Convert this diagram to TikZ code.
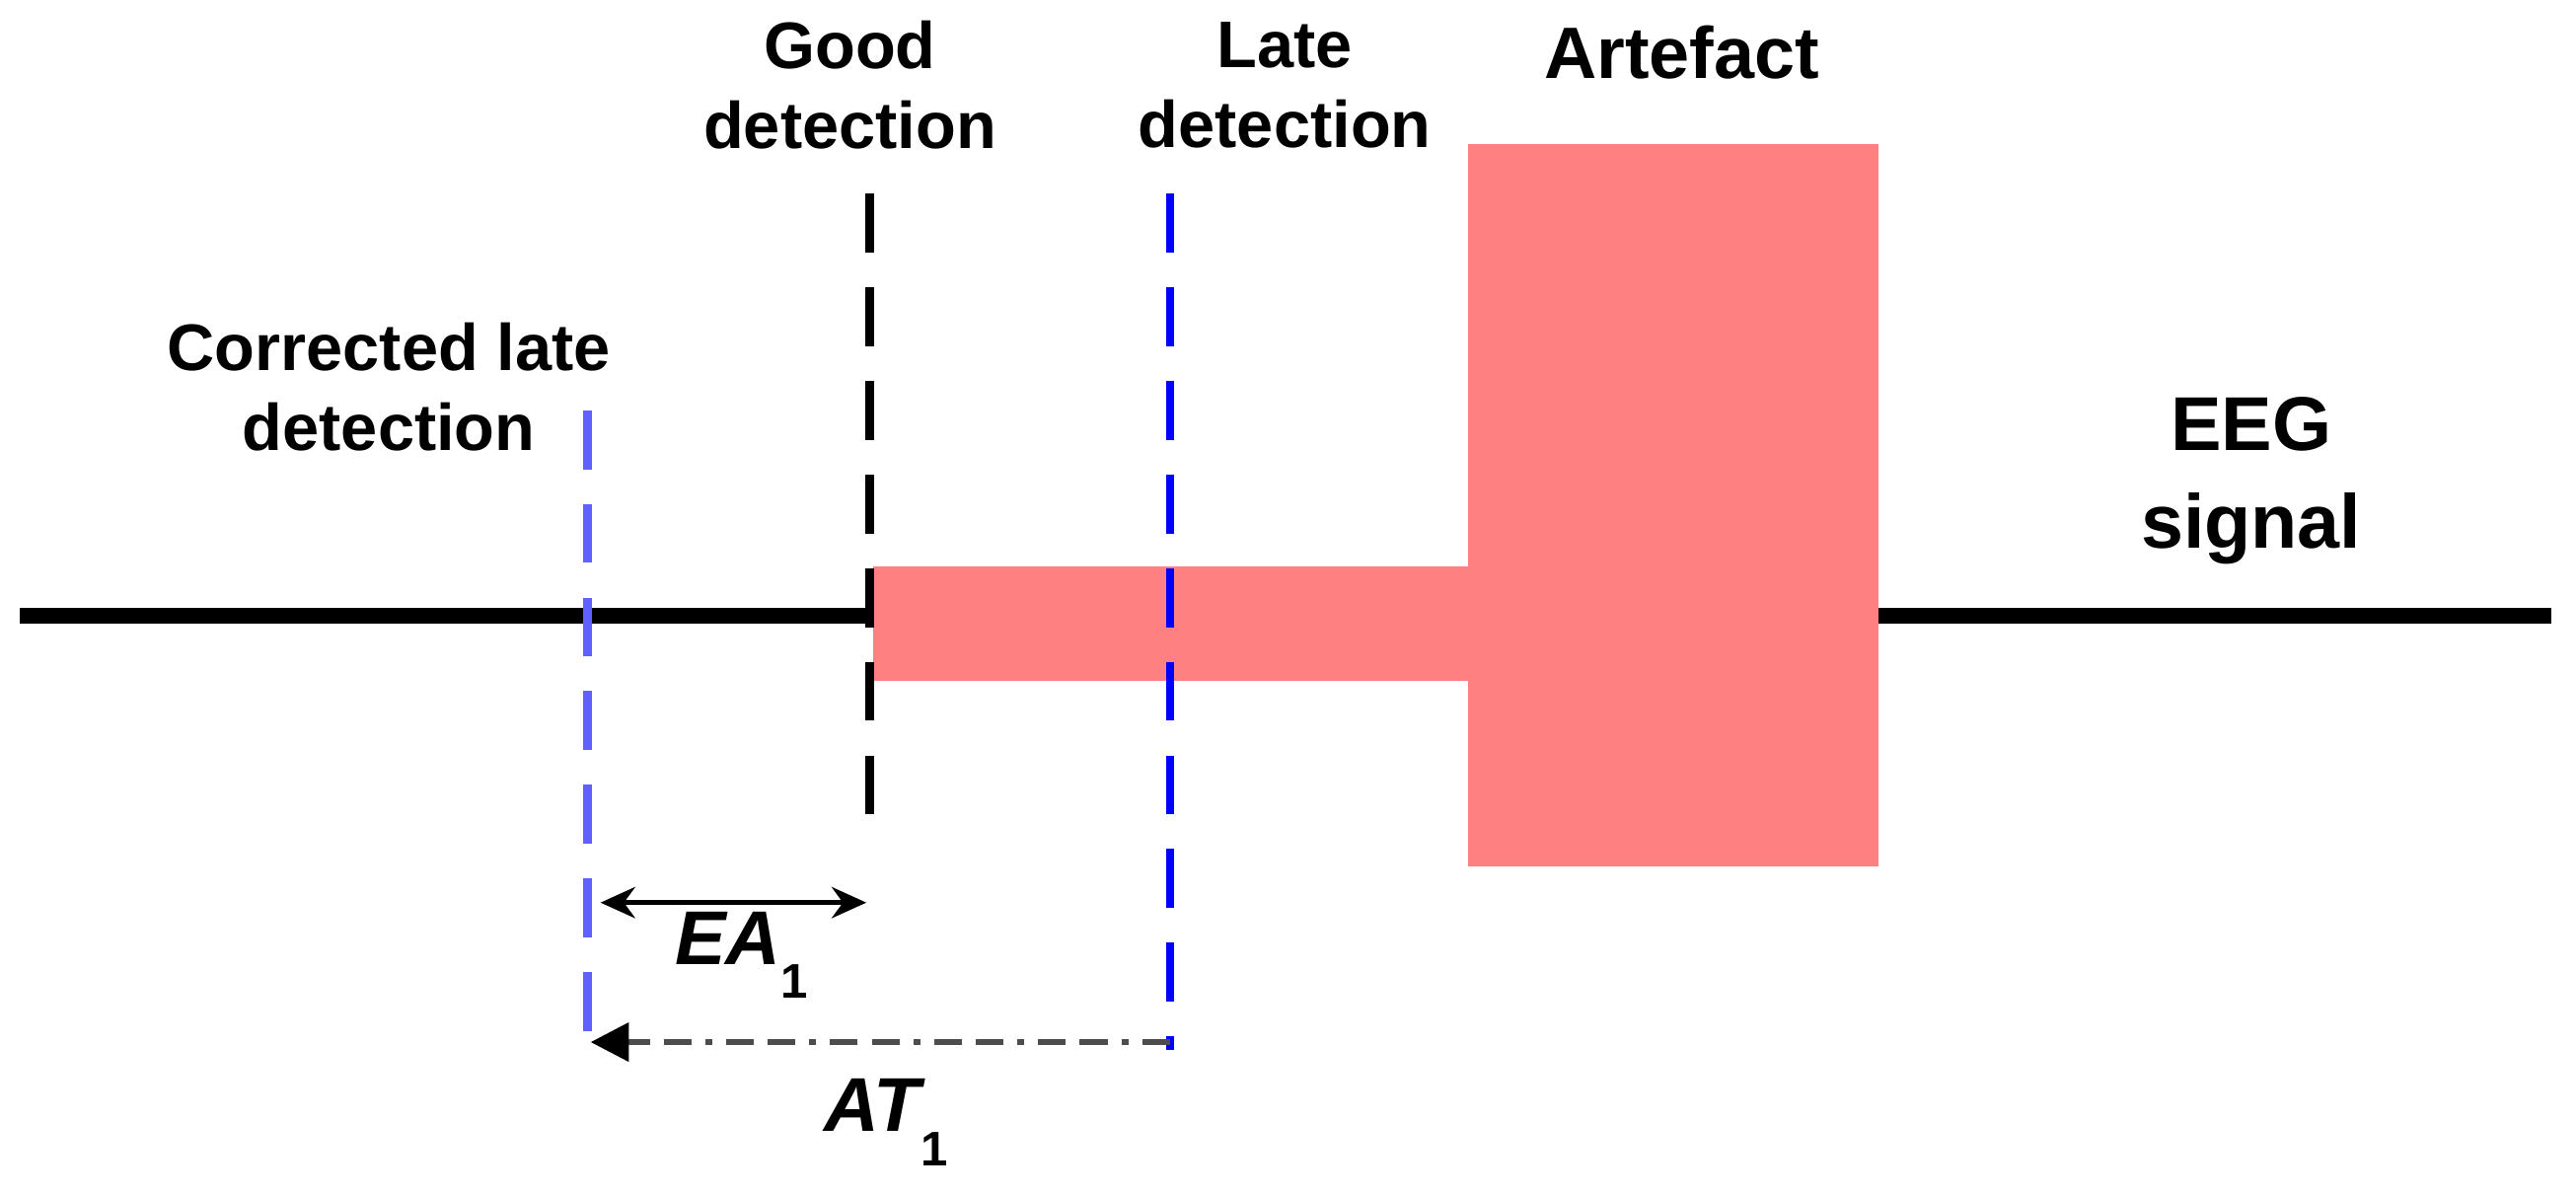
\documentclass[tikz,border=0pt]{standalone}
\usepackage{fontspec}
\setmainfont{Liberation Sans}
\usetikzlibrary{arrows.meta}
\definecolor{pinkish}{HTML}{FF8080}
\definecolor{lblue}{HTML}{6060FF}
\newcommand{\lowone}{\raisebox{-0.45em}{\fontsize{14}{16}\selectfont\upshape\bfseries 1}}
\begin{document}
\begin{tikzpicture}[x=0.01663cm,y=-0.01663cm,
  lab/.style={font=\fontsize{19}{23}\selectfont\bfseries,align=center,inner sep=0},
  dsh/.style={line width=2.4pt,dash pattern=on 17pt off 10pt}]
\useasboundingbox (0,0) rectangle (1570,727.6);
\fill[pinkish] (532,345) rectangle (895,415);
\fill[pinkish] (895,88) rectangle (1145,528);
\draw[line width=4.6pt] (12,375) -- (532,375);
\draw[line width=4.6pt] (1145,375) -- (1555,375);
\coordinate (g1) at (530,118); \coordinate (g2) at (530,500);
\coordinate (l1) at (713,118); \coordinate (l2) at (713,640);
\coordinate (c1) at (358,250); \coordinate (c2) at (358,635);
\draw[dsh,black] (g1) -- (g2);
\draw[dsh,blue] (l1) -- (l2);
\draw[dsh,lblue] (c1) -- (c2);
\coordinate (ea1) at (366,550); \coordinate (ea2) at (528,550);
\draw[line width=1.3pt,{Stealth[length=10pt,width=9pt,fill=black]}-{Stealth[length=10pt,width=9pt,fill=black]}] (ea1) -- (ea2);
\coordinate (at1) at (713,635); \coordinate (at2) at (360,635);
\draw[line width=1.6pt,black!70,dash pattern=on 8pt off 4pt on 2pt off 4pt on 8pt off 4pt,-{Triangle[length=11pt,width=11pt,black]}] (at1) -- (at2);
\node[lab] (good) at (518,52) {Good\\detection};
\node[lab] (late) at (783,52) {Late\\detection};
\node[lab,font=\fontsize{21}{25}\selectfont\bfseries] (art) at (1025,32) {Artefact};
\node[lab] (corr) at (237,236) {Corrected late\\detection};
\node[lab,font=\fontsize{22}{28}\selectfont\bfseries] (eeg) at (1372,293) {EEG\\signal};
\node[lab,font=\fontsize{22}{26}\selectfont\bfseries\itshape] (ea) at (452,582) {EA\lowone};
\node[lab,font=\fontsize{22}{26}\selectfont\bfseries\itshape] (at) at (540,684) {AT\lowone};
\end{tikzpicture}
\end{document}
